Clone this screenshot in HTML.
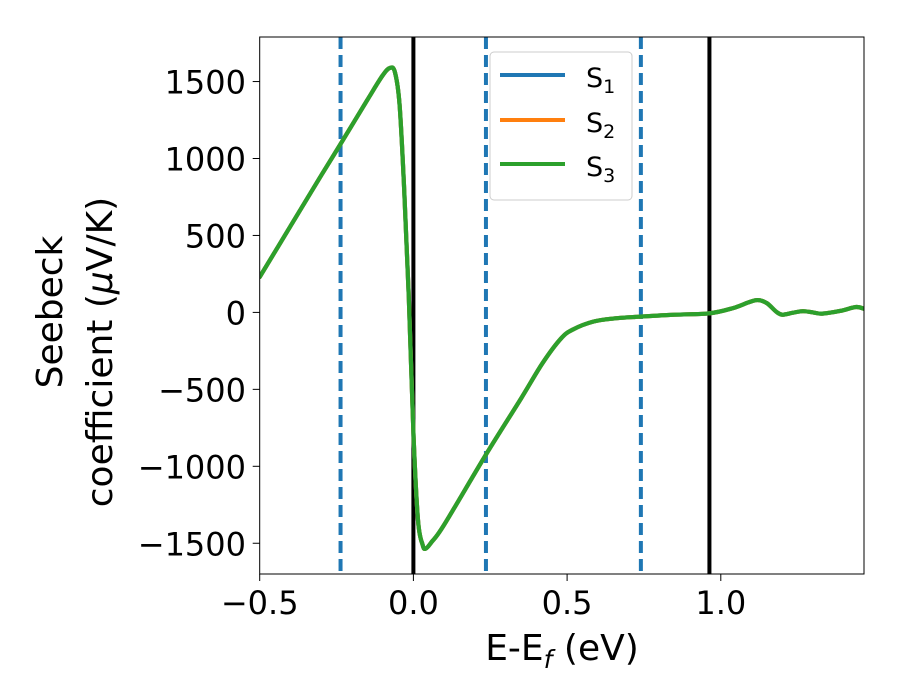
<!DOCTYPE html>
<html><head><meta charset="utf-8"><style>
body{margin:0;background:#fff;}
svg{display:block;font-family:"DejaVu Sans","Liberation Sans",sans-serif;}
</style></head><body>
<svg id="chart" width="900" height="700" viewBox="0 0 900 700" xmlns="http://www.w3.org/2000/svg">
<defs><clipPath id="clip"><rect x="259.7" y="37" width="604.3" height="537"/></clipPath></defs>
<rect x="0" y="0" width="900" height="700" fill="#fff"/>
<g id="vlines" clip-path="url(#clip)"></g>
<g id="series" clip-path="url(#clip)"></g>
<rect x="259.7" y="37" width="604.3" height="537" fill="none" stroke="#000" stroke-width="1"/>
<g id="xticks"></g><g id="yticks"></g>
<text x="562" y="660" font-size="36" text-anchor="middle">E-E<tspan font-style="italic" font-size="25" dy="8">f</tspan><tspan dy="-8"> (eV)</tspan></text>
<g font-size="36" text-anchor="middle">
<text transform="translate(62,312) rotate(-90)">Seebeck</text>
<text transform="translate(112,352) rotate(-90)">coefficient  (<tspan font-style="italic">μ</tspan>V/K)</text>
</g>
<g>
<rect x="490" y="52" width="142" height="148" rx="4" fill="#fff" fill-opacity="0.8" stroke="#ccc" stroke-width="1"/>
<g><line x1="500" y1="75" x2="565" y2="75" stroke="#1f77b4" stroke-width="4"/><text x="586" y="87" font-size="27">S<tspan font-size="19" dy="6">1</tspan></text></g>
<g><line x1="500" y1="120" x2="565" y2="120" stroke="#ff7f0e" stroke-width="4"/><text x="586" y="132" font-size="27">S<tspan font-size="19" dy="6">2</tspan></text></g>
<g><line x1="500" y1="164" x2="565" y2="164" stroke="#2ca02c" stroke-width="4"/><text x="586" y="176" font-size="27">S<tspan font-size="19" dy="6">3</tspan></text></g>
</g>
</svg>
<script>
const energies=[-0.5,-0.4,-0.3,-0.237,-0.15,-0.1,-0.076,-0.06,-0.045,-0.03,-0.015,0,0.015,0.03,0.04,0.06,0.1,0.236,0.35,0.42,0.48,0.52,0.585,0.65,0.734,0.85,0.963,1.04,1.09,1.12,1.15,1.18,1.2,1.235,1.267,1.3,1.33,1.39,1.44,1.467];
const s1Values=[230,560,890,1094,1380,1540,1589,1560,1350,800,100,-780,-1350,-1510,-1535,-1490,-1380,-924,-560,-330,-170,-110,-60,-40,-28,-15,-6,28,65,80,60,5,-15,-2,8,0,-8,10,35,22];
const s2Values=s1Values.slice();
const s3Values=s1Values.slice();
const xTicks=[-0.5,0.0,0.5,1.0];
const xTickLabels=["\u22120.5","0.0","0.5","1.0"];
const yTicks=[1500,1000,500,0,-500,-1000,-1500];
const yTickLabels=["1500","1000","500","0","\u2212500","\u22121000","\u22121500"];
const dashedLines=[-0.237,0.236,0.74];
const solidLines=[0,0.963];
const NS="http://www.w3.org/2000/svg";
function xs(e){return 413.4+(e)*307.4;}
function ys(v){return 312.4-v*0.1539;}
function mk(t,a,p){const el=document.createElementNS(NS,t);for(const k in a)el.setAttribute(k,a[k]);p.appendChild(el);return el;}
const vg=document.getElementById('vlines');
dashedLines.forEach(e=>{const l=mk('line',{x1:xs(e),x2:xs(e),y1:37,y2:574,stroke:'#1f77b4','stroke-width':4,'stroke-dasharray':'12,6'},vg);

});
solidLines.forEach(e=>{const l=mk('line',{x1:xs(e),x2:xs(e),y1:37,y2:574,stroke:'#000','stroke-width':4},vg);

});
function pathD(xv,yv){const p=xv.map((e,i)=>[xs(e),ys(yv[i])]);let d='M'+p[0][0]+','+p[0][1];
for(let i=0;i<p.length-1;i++){const p0=p[Math.max(0,i-1)],p1=p[i],p2=p[i+1],p3=p[Math.min(p.length-1,i+2)];
const c1=[p1[0]+(p2[0]-p0[0])/6,p1[1]+(p2[1]-p0[1])/6],c2=[p2[0]-(p3[0]-p1[0])/6,p2[1]-(p3[1]-p1[1])/6];
d+=' C'+c1+' '+c2+' '+p2;}return d;}
const sg=document.getElementById('series');
[[s1Values,'#1f77b4','series-s1'],[s2Values,'#ff7f0e','series-s2'],[s3Values,'#2ca02c','series-s3']].forEach(s=>{
const p=mk('path',{d:pathD(energies,s[0]),fill:'none',stroke:s[1],'stroke-width':4.2,'stroke-linejoin':'round','stroke-linecap':'round'},sg);

});
const xg=document.getElementById('xticks');
xTicks.forEach((t,i)=>{mk('line',{x1:xs(t),x2:xs(t),y1:574,y2:581,stroke:'#000','stroke-width':1},xg);
const tx=mk('text',{x:xs(t),y:614,'font-size':32,'text-anchor':'middle'},xg);tx.textContent=xTickLabels[i];

});
const yg=document.getElementById('yticks');
yTicks.forEach((t,i)=>{mk('line',{x1:252.7,x2:259.7,y1:ys(t),y2:ys(t),stroke:'#000','stroke-width':1},yg);
const tx=mk('text',{x:246,y:ys(t)+12,'font-size':32,'text-anchor':'end'},yg);tx.textContent=yTickLabels[i];

});
</script>
</body></html>
